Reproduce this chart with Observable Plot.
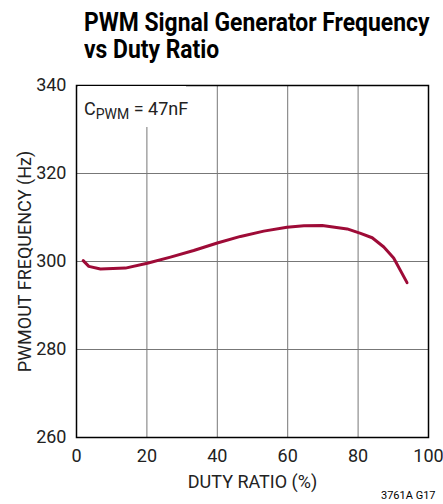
<!DOCTYPE html>
<html><head><meta charset="utf-8">
<script src="https://cdn.jsdelivr.net/npm/d3@7"></script>
<script src="https://cdn.jsdelivr.net/npm/@observablehq/plot@0.6"></script>
<style>
body{margin:0;background:#fff;font-family:Roboto,"Liberation Sans",sans-serif;}
#wrap{position:relative;width:443px;height:504px;overflow:hidden;}
#title{position:absolute;left:84px;top:9px;font-weight:bold;font-size:25px;line-height:27px;color:#000;white-space:nowrap;transform-origin:0 0;}
#chart{position:absolute;left:0;top:70px;}
#legend{position:absolute;left:78px;top:86px;width:108px;height:41px;background:#fff;font-size:18px;color:#222;}
#legend span.t{position:absolute;left:6px;top:12px;white-space:nowrap;}
#legend sub{font-size:14px;vertical-align:-4px;}
#note{position:absolute;left:381px;top:489px;font-size:11px;color:#000;white-space:nowrap;}
</style></head>
<body><div id="wrap">
<div id="title">PWM Signal Generator Frequency<br>vs Duty Ratio</div>
<div id="chart"></div>
<div id="legend"><span class="t">C<sub>PWM</sub> = 47nF</span></div>
<div id="note">3761A G17</div>
</div>
<script>
const duty = [1.9, 3.5, 6.8, 13.9, 20.1, 26.7, 33.3, 40, 46.6, 53.2, 59.8, 64.6, 69.8, 76.9, 80.7, 84, 87.3, 90.1, 93.9];
const freq = [300.2, 298.9, 298.3, 298.5, 299.6, 301.0, 302.5, 304.2, 305.7, 306.9, 307.8, 308.1, 308.2, 307.4, 306.4, 305.4, 303.3, 300.8, 295.2];
const xTicks = [0, 20, 40, 60, 80, 100];
const yTicks = [260, 280, 300, 320, 340];
const data = duty.map((d, i) => ({duty: d, freq: freq[i]}));

const chart = Plot.plot({
  width: 443,
  height: 434,
  marginLeft: 76,
  marginRight: 15,
  marginTop: 15,
  marginBottom: 67,
  style: {fontFamily: 'Roboto,"Liberation Sans",sans-serif', fontSize: "18px", color: "#222", background: "#fff"},
  x: {domain: [0, 100]},
  y: {domain: [260, 340]},
  marks: [
    Plot.gridX(xTicks.slice(1, -1), {stroke: "#777", strokeOpacity: 1, strokeWidth: 1}),
    Plot.gridY(yTicks.slice(1, -1), {stroke: "#777", strokeOpacity: 1, strokeWidth: 1}),
    Plot.axisX(xTicks, {tickSize: 0, tickPadding: 12, label: "DUTY RATIO (%)", labelAnchor: "center", labelArrow: "none", labelOffset: 50, fontSize: 18}),
    Plot.axisY(yTicks, {tickSize: 0, tickPadding: 10, label: "PWMOUT FREQUENCY (Hz)", labelAnchor: "center", labelArrow: "none", labelOffset: 58, fontSize: 18}),
    Plot.frame({stroke: "#000", strokeWidth: 1.5}),
    Plot.line(data, {x: "duty", y: "freq", stroke: "#9e0b37", strokeWidth: 3, strokeLinejoin: "round"})
  ]
});
document.getElementById("chart").appendChild(chart);
const t = document.getElementById("title");
const s = 345 / t.scrollWidth;
t.style.transform = `scaleX(${s})`;
</script>
</body></html>
